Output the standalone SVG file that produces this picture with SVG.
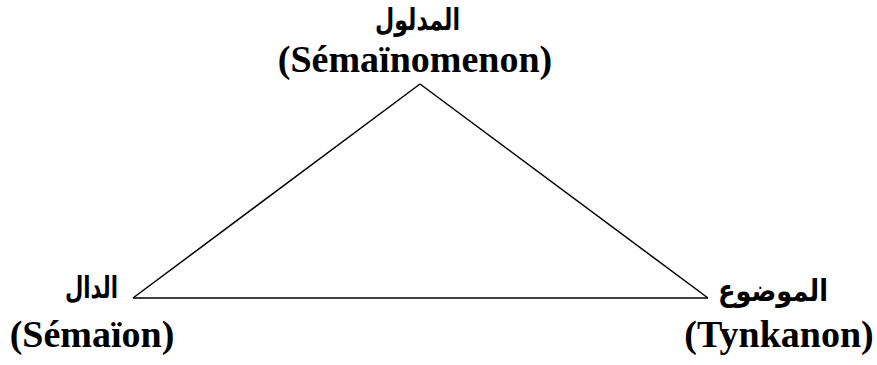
<svg xmlns="http://www.w3.org/2000/svg" width="877" height="365" viewBox="0 0 877 365">
<style>
.lat{font-family:"Liberation Serif","Times New Roman",serif;font-weight:bold;font-size:38px;fill:#000}
.ar{font-family:"DejaVu Sans",sans-serif;font-weight:bold;font-size:30px;fill:#000}
.edge{stroke:#000;stroke-width:1.5;fill:none}
</style>
<rect width="877" height="365" fill="#fff"/>
<g id="connectors">
<line class="edge" x1="420" y1="84" x2="133" y2="298"/>
<line class="edge" x1="420" y1="84" x2="708" y2="298"/>
<line class="edge" x1="133" y1="298" x2="708" y2="298"/>
</g>
<g id="node-top">
<text class="ar" x="375" y="30" textLength="85" lengthAdjust="spacingAndGlyphs" direction="ltr">المدلول</text>
<text class="lat" x="415" y="72" text-anchor="middle">(Sémaïnomenon)</text>
</g>
<g id="node-left">
<text class="ar" x="65" y="298" textLength="53" lengthAdjust="spacingAndGlyphs" direction="ltr">الدال</text>
<text class="lat" x="92" y="347" text-anchor="middle">(Sémaïon)</text>
</g>
<g id="node-right">
<text class="ar" x="718" y="301" textLength="110" lengthAdjust="spacingAndGlyphs" direction="ltr">الموضوع</text>
<text class="lat" x="779" y="347" text-anchor="middle">(Tynkanon)</text>
</g>
</svg>
